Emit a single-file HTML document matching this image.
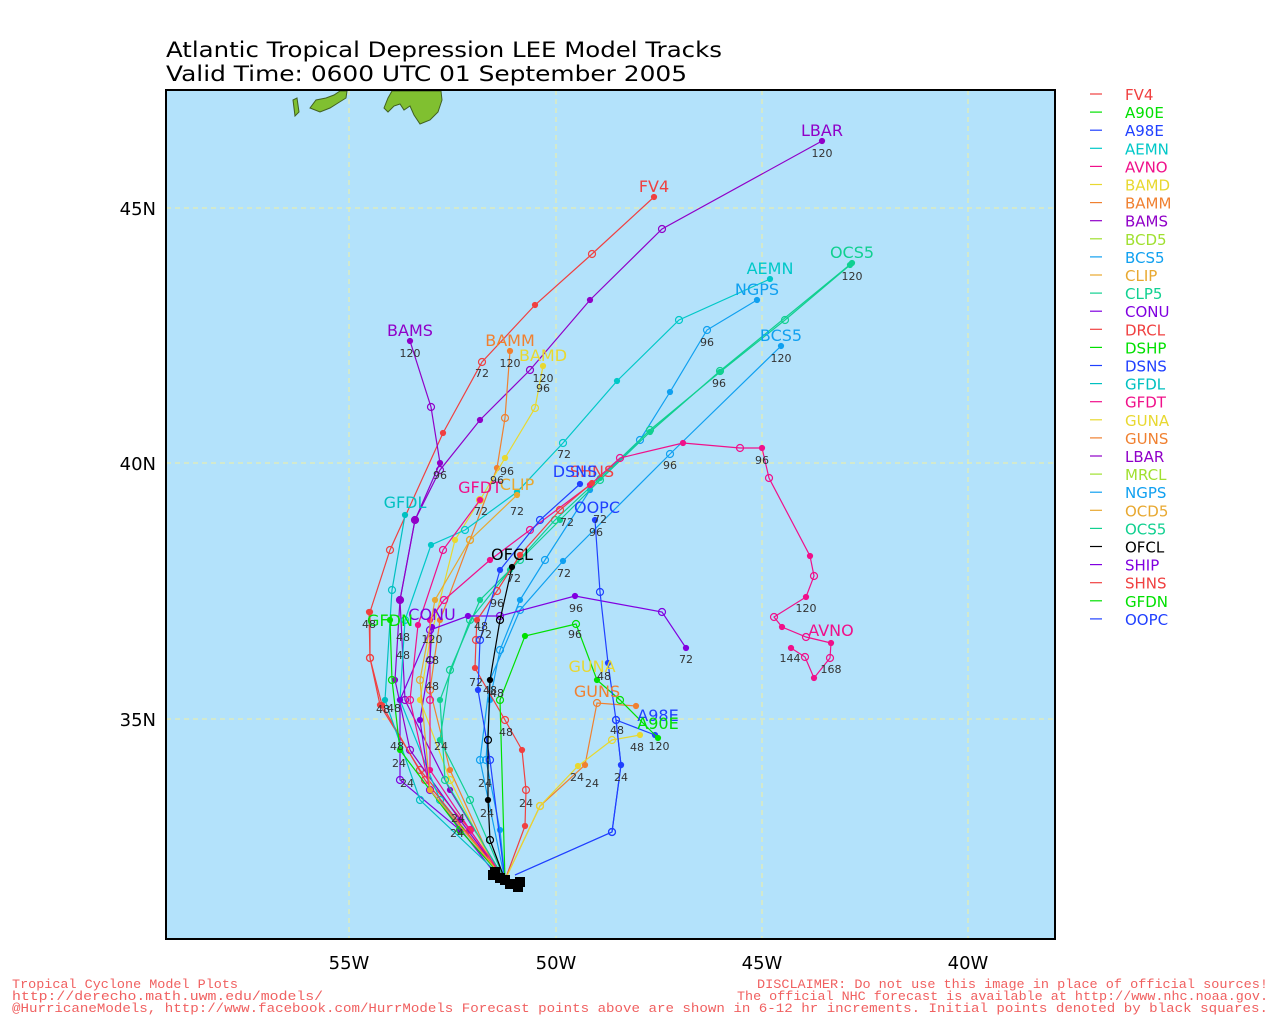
<!DOCTYPE html>
<html><head><meta charset="utf-8"><style>
body{margin:0;background:#fff;width:1280px;height:1024px;overflow:hidden}
svg{display:block}
text{font-family:"DejaVu Sans","Liberation Sans",sans-serif}
.m{font-family:"Liberation Mono",monospace}
</style></head><body>
<svg id="s" width="1280" height="1024" xmlns="http://www.w3.org/2000/svg">
<text x="166" y="57" font-size="21" fill="#000" textLength="556" lengthAdjust="spacingAndGlyphs">Atlantic Tropical Depression LEE Model Tracks</text>
<text x="166" y="81" font-size="21" fill="#000" textLength="521" lengthAdjust="spacingAndGlyphs">Valid Time: 0600 UTC 01 September 2005</text>
<rect x="166" y="90" width="889" height="849" fill="#b3e2fb"/>
<g stroke="#f0f0a0" stroke-dasharray="5,4" stroke-width="1">
<line x1="349" y1="90" x2="349" y2="939"/><line x1="556" y1="90" x2="556" y2="939"/>
<line x1="762" y1="90" x2="762" y2="939"/><line x1="968" y1="90" x2="968" y2="939"/>
<line x1="166" y1="208" x2="1055" y2="208"/><line x1="166" y1="463" x2="1055" y2="463"/>
<line x1="166" y1="719" x2="1055" y2="719"/>
</g>
<g fill="#80c030" stroke="#406020" stroke-width="1">
<path d="M310,108 L316,100 L326,98 L334,95 L340,91 L347,91 L346,98 L338,103 L330,108 L320,112 Z"/>
<path d="M293,100 L297,98 L299,112 L295,116 Z"/>
<path d="M384,108 L388,98 L392,91 L441,91 L442,100 L438,112 L430,120 L420,124 L414,115 L410,106 L404,110 L400,104 L394,106 L388,112 Z"/>
</g>
<g id="tr" fill="none" stroke-width="1.2"></g>
<g id="lb"></g>
<rect x="166" y="90" width="889" height="849" fill="none" stroke="#000" stroke-width="2"/>
<g font-size="18" fill="#000" text-anchor="middle">
<text x="349" y="969">55W</text><text x="556" y="969">50W</text><text x="762" y="969">45W</text><text x="968" y="969">40W</text>
</g>
<g font-size="18" fill="#000" text-anchor="end">
<text x="156" y="215">45N</text><text x="156" y="470">40N</text><text x="156" y="726">35N</text>
</g>
<g id="leg" font-size="15"></g>
<g font-size="13" fill="#f06060">
<text class="m" x="12" y="988" textLength="226" lengthAdjust="spacingAndGlyphs">Tropical Cyclone Model Plots</text>
<text class="m" x="12" y="1000" textLength="311" lengthAdjust="spacingAndGlyphs">http://derecho.math.uwm.edu/models/</text>
<text class="m" x="12" y="1012" textLength="1256" lengthAdjust="spacingAndGlyphs">@HurricaneModels, http://www.facebook.com/HurrModels  Forecast points above are shown in 6-12 hr increments. Initial points denoted by black squares.</text>
<text class="m" x="757" y="988" textLength="511" lengthAdjust="spacingAndGlyphs">DISCLAIMER: Do not use this image in place of official sources!</text>
<text class="m" x="737" y="1000" textLength="531" lengthAdjust="spacingAndGlyphs">The official NHC forecast is available at http://www.nhc.noaa.gov.</text>
</g>
</svg>
<script>
var C={FV4:"#f04040",A90E:"#00e000",A98E:"#2040ff",AEMN:"#00c8c8",AVNO:"#f0108a",BAMD:"#e8d830",BAMM:"#f08030",BAMS:"#9000c8",BCD5:"#a0e030",BCS5:"#10a0f0",CLIP:"#e8a830",CLP5:"#10d090",CONU:"#8000e0",DRCL:"#f04040",DSHP:"#00e000",DSNS:"#2040ff",GFDL:"#00c0c0",GFDT:"#f0108a",GUNA:"#e8d830",GUNS:"#f08030",LBAR:"#9000c8",MRCL:"#a0e030",NGPS:"#10a0f0",OCD5:"#e8a830",OCS5:"#10d090",OFCL:"#000",SHIP:"#8000e0",SHNS:"#f04040",GFDN:"#00e000",OOPC:"#2040ff"};
var T=[
["FV4",[[654,197],[592,254],[535,305],[482,362],[443,433],[390,550],[370,612],[370,658],[380,705],[420,770],[470,830],[505,880]],[654,192]],
["LBAR",[[822,141],[662,229],[590,300],[530,370],[480,420],[440,470],[415,520],[400,600],[395,680],[410,750],[460,820],[505,880]],[822,136]],
["BAMS",[[410,341],[431,407],[440,463],[415,520],[400,600],[405,700],[450,790],[505,880]],[410,336]],
["BAMM",[[510,351],[505,418],[497,468],[470,540],[440,620],[430,690],[450,770],[500,880]],[510,346]],
["BAMD",[[543,366],[535,408],[505,458],[480,500],[455,540],[430,640],[420,700],[450,780],[500,880]],[543,361]],
["AEMN",[[770,279],[679,320],[617,381],[563,443],[517,492],[465,530],[431,545],[405,620],[400,700],[440,800],[505,880]],[770,274]],
["NGPS",[[757,300],[707,330],[670,392],[640,440],[590,490],[545,560],[520,600],[500,650],[490,700],[486,760],[500,830],[505,880]],[757,295]],
["BCS5",[[781,346],[670,454],[563,561],[520,610],[490,680],[480,760],[505,880]],[781,341]],
["OCS5",[[852,263],[720,371],[650,432],[600,480],[560,520],[520,560],[480,600],[450,670],[440,740],[470,800],[505,880]],[852,258]],
["CLP5",[[850,265],[785,320],[720,372],[650,430],[600,478],[555,520],[510,570],[470,620],[440,700],[445,780],[505,880]],null],
["AVNO",[[791,648],[805,657],[814,678],[830,658],[831,643],[806,637],[782,627],[774,617],[806,597],[814,576],[810,556],[769,478],[762,448],[740,448],[683,443],[620,458],[590,485],[530,530],[490,560],[444,600],[430,620],[430,700],[430,770],[470,830],[505,880]],[831,636]],
["SHIP",[[686,648],[662,612],[575,596],[500,616],[468,616],[430,630],[400,700],[400,780],[460,830],[505,880]],null],
["CONU",[[432,627],[430,660],[420,720],[430,790],[500,880]],[432,620]],
["SHNS",[[592,483],[560,510],[520,555],[497,591],[477,620],[476,640],[475,668],[505,720],[522,750],[526,790],[525,826],[505,880]],[592,477]],
["DSNS",[[580,484],[540,520],[500,570],[480,640],[478,690],[490,760],[505,880]],[575,477]],
["DRCL",[[369,612],[370,658],[382,705],[425,780],[505,880]],null],
["GFDT",[[480,500],[443,550],[418,625],[410,700],[430,790],[505,880]],[480,493]],
["GFDL",[[405,515],[392,590],[385,700],[420,800],[505,880]],[405,508]],
["GFDN",[[390,620],[392,680],[400,750],[460,830],[505,880]],[390,626]],
["CLIP",[[517,495],[470,540],[435,600],[420,680],[430,790],[505,880]],[517,490]],
["GUNS",[[636,706],[597,703],[585,765],[540,806],[505,880]],[597,697]],
["GUNA",[[640,735],[612,740],[578,766],[540,806],[505,880]],[592,672]],
["A98E",[[655,735],[616,720],[621,765],[612,832],[515,875]],[658,721]],
["A90E",[[658,738],[620,700],[597,680],[576,624],[525,636],[500,700],[505,880]],[658,729]],
["OOPC",[[595,520],[600,592],[608,663],[616,720],[621,765],[612,832],[515,875]],[597,513]],
["OFCL",[[512,567],[500,620],[490,680],[488,740],[488,800],[490,840],[505,880]],[512,560]]
];
var tr=document.getElementById("tr"),lb=document.getElementById("lb"),NS="http://www.w3.org/2000/svg";
function el(n,a,p){var e=document.createElementNS(NS,n);for(var k in a)e.setAttribute(k,a[k]);p.appendChild(e);return e;}
T.forEach(function(t,i){var c=C[t[0]];
el("polyline",{points:t[1].map(function(p){return p.join(",")}).join(" "),stroke:c},tr);
t[1].forEach(function(p,j){if(j==t[1].length-1)return;
if(j%2==0)el("circle",{cx:p[0],cy:p[1],r:2.5,fill:c,stroke:c},tr);else el("circle",{cx:p[0],cy:p[1],r:3.5,fill:"none",stroke:c},tr);});
if(t[2]){var x=el("text",{x:t[2][0],y:t[2][1],fill:c,"font-size":16,"text-anchor":"middle"},lb);x.textContent=t[0];}
});
[[505,880],[495,872],[500,878],[510,884],[518,887],[520,882],[493,875]].forEach(function(p){el("rect",{x:p[0]-5,y:p[1]-5,width:10,height:10,fill:"#000"},tr);});
var nums=[[822,157,"120"],[410,357,"120"],[510,367,"120"],[543,382,"120"],[543,392,"96"],[852,280,"120"],[781,362,"120"],[707,346,"96"],[719,387,"96"],[670,469,"96"],[762,464,"96"],[806,612,"120"],[790,662,"144"],[831,673,"168"],[686,663,"72"],[576,612,"96"],[575,638,"96"],[600,523,"72"],[596,536,"96"],[564,458,"72"],[567,526,"72"],[564,577,"72"],[482,377,"72"],[440,479,"96"],[497,484,"96"],[507,475,"96"],[481,515,"72"],[517,515,"72"],[514,582,"72"],[497,607,"96"],[485,638,"72"],[481,630,"48"],[476,686,"72"],[490,694,"48"],[497,697,"48"],[506,736,"48"],[432,643,"120"],[432,690,"48"],[403,641,"48"],[403,659,"48"],[432,664,"48"],[369,628,"48"],[383,713,"48"],[394,712,"48"],[397,750,"48"],[441,750,"24"],[399,767,"24"],[407,787,"24"],[485,787,"24"],[526,807,"24"],[487,817,"24"],[458,822,"24"],[457,837,"24"],[621,781,"24"],[592,787,"24"],[577,781,"24"],[617,734,"48"],[637,751,"48"],[659,750,"120"],[604,680,"48"]];
nums.forEach(function(n){var x=el("text",{x:n[0],y:n[1],fill:"#333","font-size":11,"text-anchor":"middle"},lb);x.textContent=n[2];});
var leg=document.getElementById("leg"),i=0;
for(var k in C){var y=94+i*18.1;el("line",{x1:1090,x2:1102,y1:y,y2:y,stroke:C[k],"stroke-width":1.2},leg);
var x=el("text",{x:1125,y:y+6,fill:C[k]},leg);x.textContent=k;i++;}
</script>
</body></html>
